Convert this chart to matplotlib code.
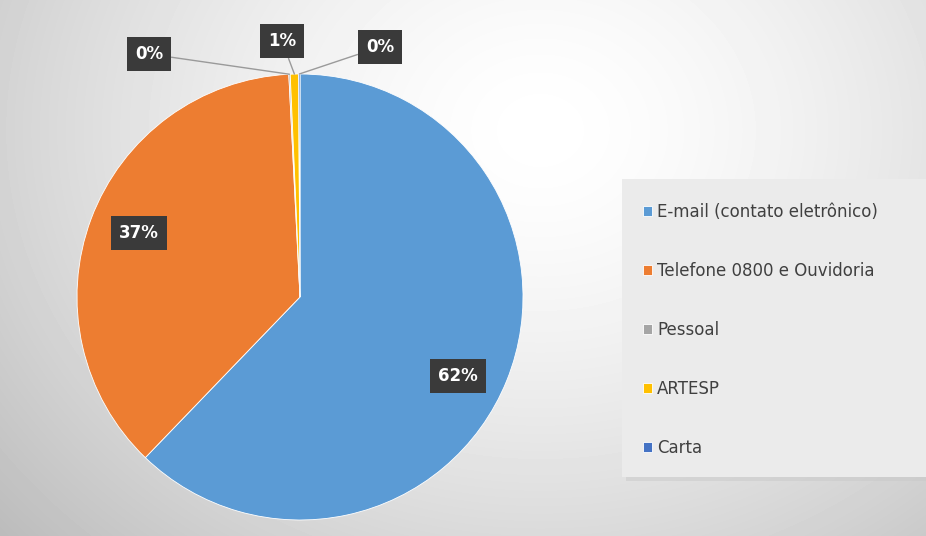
import numpy as np
import matplotlib.pyplot as plt
from matplotlib.patches import Rectangle

categories = ['E-mail (contato eletrônico)', 'Telefone 0800 e Ouvidoria',
              'Pessoal', 'ARTESP', 'Carta']
shares = [62.2, 37.0, 0.1, 0.6, 0.1]
pct_labels = ['62%', '37%', '0%', '1%', '0%']
colors = ['#5B9BD5', '#ED7D31', '#A5A5A5', '#FFC000', '#4472C4']

W, H = 926, 536
fig = plt.figure(figsize=(W / 100, H / 100), dpi=100)

# radial grey background
bg = fig.add_axes([0, 0, 1, 1])
yy, xx = np.mgrid[0:H, 0:W]
d = np.sqrt(((xx - 540) / 620.0) ** 2 + ((yy - 130) / 520.0) ** 2)
shade = 1.0 - 0.21 * np.clip(d, 0, 1.2) ** 1.5
bg.imshow(shade, cmap='gray', vmin=0, vmax=1, extent=[0, W, H, 0], aspect='auto')
bg.set_xlim(0, W)
bg.set_ylim(H, 0)
bg.axis('off')

# legend panel
bg.add_patch(Rectangle((626, 183), 304, 298, facecolor='#c9c9c9', alpha=0.5, edgecolor='none'))
bg.add_patch(Rectangle((622, 179), 304, 298, facecolor='#ebebeb', edgecolor='none'))

cx, cy, r = 300, 297, 223
ax = fig.add_axes([(cx - r) / W, (H - cy - r) / H, 2 * r / W, 2 * r / H])
wedges, _ = ax.pie(shares, colors=colors, startangle=90, counterclock=False,
                   radius=1, wedgeprops=dict(edgecolor='white', linewidth=0.6))
ax.set_xlim(-1, 1)
ax.set_ylim(-1, 1)
ax.set_aspect('equal')
ax.axis('off')


def to_data(px, py):
    return (px - cx) / r, (cy - py) / r


label_pos = [(458, 376), (139, 233), (149, 54), (282, 41), (380, 47)]
leader = [False, False, True, True, True]
box = dict(boxstyle='square,pad=0.5', facecolor='#3a3a3a', edgecolor='none')
for w, txt, (px, py), lead in zip(wedges, pct_labels, label_pos, leader):
    tx, ty = to_data(px, py)
    if lead:
        ang = np.deg2rad((w.theta1 + w.theta2) / 2)
        ex, ey = np.cos(ang), np.sin(ang)
        ax.annotate(txt, xy=(ex, ey), xytext=(tx, ty), ha='center', va='center',
                    color='white', fontsize=12, fontweight='bold', bbox=box,
                    annotation_clip=False,
                    arrowprops=dict(arrowstyle='-', color='#9a9a9a', lw=1.0,
                                    shrinkA=0, shrinkB=0))
    else:
        ax.text(tx, ty, txt, ha='center', va='center', color='white',
                fontsize=12, fontweight='bold', bbox=box)

fig.legend(wedges, categories, loc='center left',
           bbox_to_anchor=(628 / W, (H - 330) / H), frameon=False,
           fontsize=12, labelcolor='#404040', labelspacing=2.45,
           handlelength=0.55, handleheight=0.55, handletextpad=0.3)

fig.savefig('out.png', dpi=100)
